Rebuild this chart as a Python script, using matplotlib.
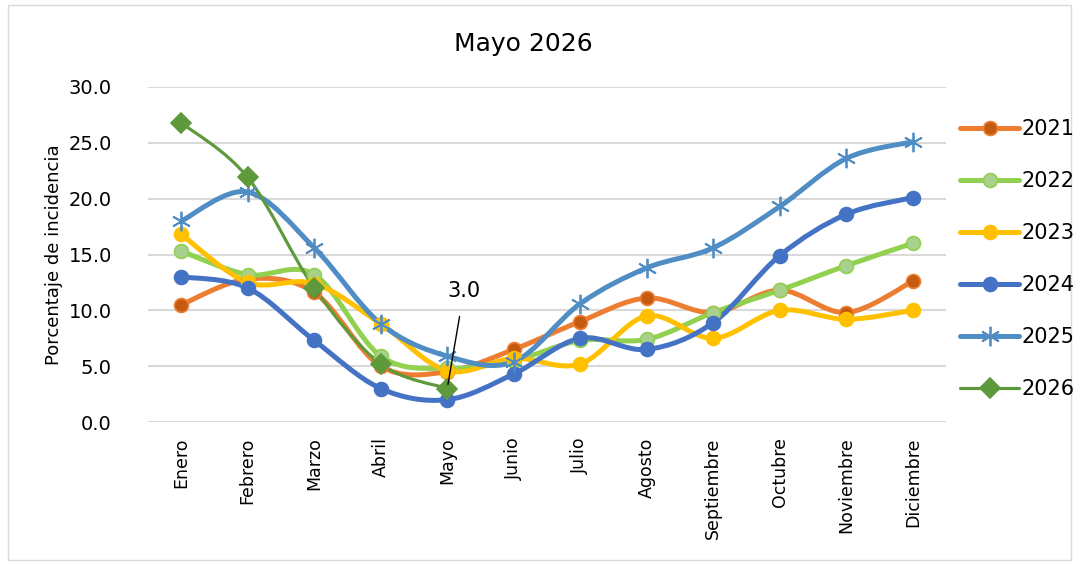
import numpy as np
import matplotlib
matplotlib.use("Agg")
import matplotlib.pyplot as plt
from matplotlib.path import Path
from matplotlib.patches import PathPatch, Rectangle
from matplotlib.lines import Line2D

plt.rcParams['font.family'] = ['DejaVu Sans']

months = ["Enero", "Febrero", "Marzo", "Abril", "Mayo", "Junio", "Julio",
          "Agosto", "Septiembre", "Octubre", "Noviembre", "Diciembre"]
years = ["2021", "2022", "2023", "2024", "2025", "2026"]

v2021 = [10.5, 12.8, 11.6, 5.0, 4.5, 6.5, 9.0, 11.1, 9.8, 11.8, 9.8, 12.6]
v2022 = [15.3, 13.2, 13.2, 5.9, 4.8, 5.5, 7.3, 7.4, 9.8, 11.8, 14.0, 16.0]
v2023 = [16.8, 12.5, 12.4, 8.8, 4.6, 5.7, 5.2, 9.5, 7.5, 10.0, 9.2, 10.0]
v2024 = [13.0, 12.0, 7.3, 3.0, 2.0, 4.3, 7.5, 6.5, 8.9, 14.9, 18.6, 20.1]
v2025 = [18.0, 20.6, 15.6, 8.8, 5.9, 5.4, 10.6, 13.8, 15.6, 19.3, 23.6, 25.1]
v2026 = [26.8, 21.9, 12.0, 5.2, 3.0]

series = [v2021, v2022, v2023, v2024, v2025, v2026]
line_colors = ["#ED7D31", "#92D050", "#FFC000", "#4472C4", "#4F8DC4", "#5E9A3C"]
face_colors = ["#C55A11", "#A9D18E", "#FFC000", "#4472C4", "#4F8DC4", "#5E9A3C"]
markers = ["o", "o", "o", "o", (6, 2, 0), "D"]
msizes = [10, 10, 10, 10, 14, 10]
lwidths = [3.6, 3.6, 3.6, 3.6, 3.6, 2.3]


def smooth_path(xs, ys):
    # Excel-style smoothed line: cubic bezier segments through the points
    pts = np.column_stack([xs, ys]).astype(float)
    n = len(pts)
    verts = [pts[0]]
    codes = [Path.MOVETO]
    for i in range(n - 1):
        p0 = pts[i - 1] if i > 0 else pts[i]
        p1 = pts[i]
        p2 = pts[i + 1]
        p3 = pts[i + 2] if i + 2 < n else pts[i + 1]
        c1 = p1 + (p2 - p0) / 6.0
        c2 = p2 - (p3 - p1) / 6.0
        verts += [c1, c2, p2]
        codes += [Path.CURVE4] * 3
    return Path(verts, codes)


fig = plt.figure(figsize=(10.79, 5.65), dpi=100)
ax = fig.add_axes([148 / 1079, 1 - 422 / 565, (946 - 148) / 1079, (422 - 87) / 565])

x = np.arange(len(months))
for vals, lc, fc, mk, ms, lw in zip(series, line_colors, face_colors, markers, msizes, lwidths):
    xs = x[:len(vals)]
    ax.add_patch(PathPatch(smooth_path(xs, vals), facecolor="none", edgecolor=lc,
                           lw=lw, capstyle="round", joinstyle="round", zorder=3))
    if mk == (6, 2, 0):
        ax.plot(xs, vals, ls="none", marker=mk, ms=ms, mec=fc, mew=1.3, zorder=4)
    else:
        ax.plot(xs, vals, ls="none", marker=mk, ms=ms, mfc=fc, mec=lc, mew=1.2, zorder=4)

ax.set_xlim(-0.5, len(months) - 0.5)
ax.set_ylim(0, 30)
ax.set_yticks(np.arange(0, 30.1, 5))
ax.set_yticklabels([f"{t:.1f}" for t in np.arange(0, 30.1, 5)], fontsize=14)
ax.set_xticks(x)
ax.set_xticklabels(months, rotation=90, fontsize=12.5, va="top")
ax.tick_params(length=0, pad=11, axis="x")
ax.tick_params(length=0, pad=26, axis="y")
ax.grid(axis="y", color="#D9D9D9", lw=1.5)
ax.set_axisbelow(True)
for s in ax.spines.values():
    s.set_visible(False)
ax.set_ylabel("Porcentaje de incidencia", fontsize=13, labelpad=4)

# data label for the last 2026 point
ax.annotate(f"{v2026[4]:.1f}", xy=(4, v2026[4]), xytext=(4.25, 11.7),
            fontsize=15, ha="center", va="center",
            arrowprops=dict(arrowstyle="-", color="black", lw=1,
                            shrinkA=9, shrinkB=3), zorder=5)

fig.text(523 / 1079, 1 - 44 / 565, "Mayo 2026", fontsize=18, ha="center", va="center")

handles = []
for lc, fc, mk, ms, lw in zip(line_colors, face_colors, markers, msizes, lwidths):
    if mk == (6, 2, 0):
        handles.append(Line2D([], [], color=lc, lw=lw, marker=mk, ms=ms, mec=fc, mew=1.3,
                              solid_capstyle="round"))
    else:
        handles.append(Line2D([], [], color=lc, lw=lw, marker=mk, ms=ms, mfc=fc, mec=lc,
                              mew=1.2, solid_capstyle="round"))
fig.legend(handles, years, loc="upper left", bbox_to_anchor=(950 / 1079, 1 - 109 / 565),
           frameon=False, fontsize=15, handlelength=2.8, handletextpad=0.12,
           labelspacing=1.53, borderpad=0)

fig.patches.append(Rectangle((8 / 1079, 5 / 565), 1063 / 1079, 555 / 565,
                             transform=fig.transFigure, fill=False,
                             edgecolor="#D9D9D9", lw=1))

fig.savefig("out.png", dpi=100)
